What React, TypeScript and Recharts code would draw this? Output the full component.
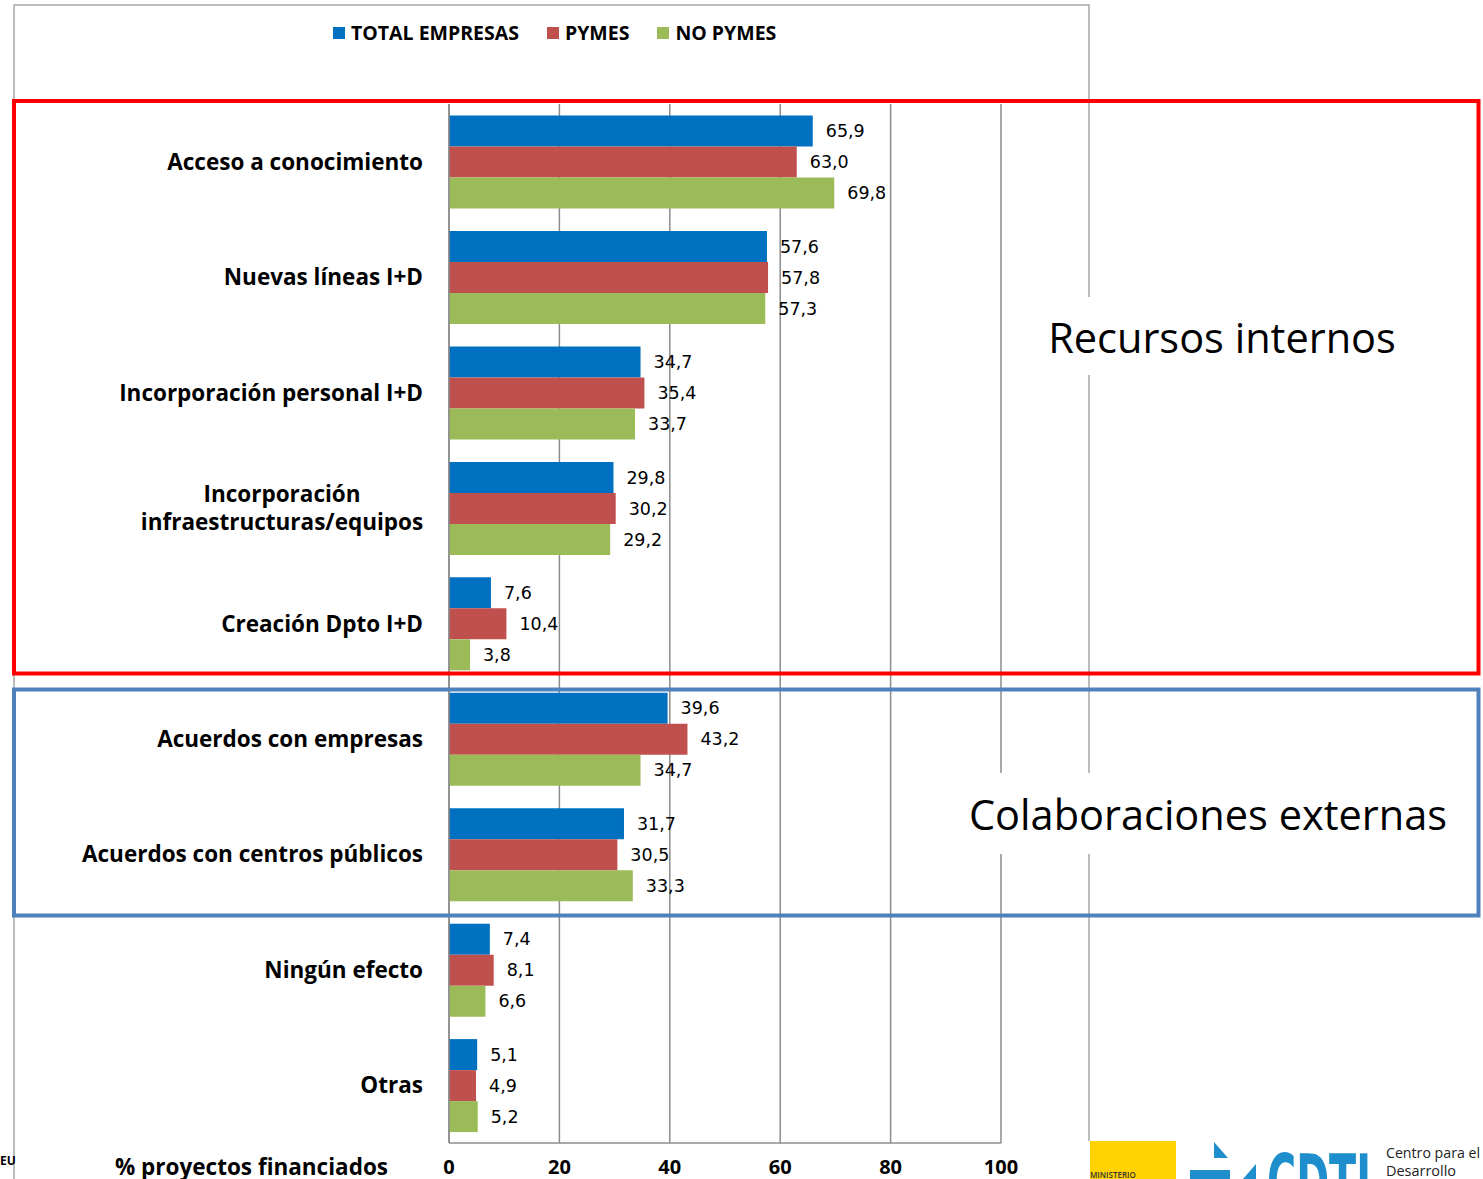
import React from "react";
import { BarChart, Bar, XAxis, YAxis, CartesianGrid, Legend, LabelList } from "recharts";

// categorías (de arriba a abajo)
const categories = [
  "Acceso a conocimiento",
  "Nuevas líneas I+D",
  "Incorporación personal I+D",
  "Incorporación\ninfraestructuras/equipos",
  "Creación Dpto I+D",
  "Acuerdos con empresas",
  "Acuerdos con centros públicos",
  "Ningún efecto",
  "Otras",
];

const totalEmpresas = [65.9, 57.6, 34.7, 29.8, 7.6, 39.6, 31.7, 7.4, 5.1];
const pymes = [63.0, 57.8, 35.4, 30.2, 10.4, 43.2, 30.5, 8.1, 4.9];
const noPymes = [69.8, 57.3, 33.7, 29.2, 3.8, 34.7, 33.3, 6.6, 5.2];

const xTicks = [0, 20, 40, 60, 80, 100];

const seriesInfo = [
  { key: "total", name: "TOTAL EMPRESAS", color: "#0070C0" },
  { key: "pymes", name: "PYMES", color: "#C0504D" },
  { key: "noPymes", name: "NO PYMES", color: "#9BBB59" },
];

const data = categories.map((name, i) => ({
  name,
  total: totalEmpresas[i],
  pymes: pymes[i],
  noPymes: noPymes[i],
}));

const fmt = (v: any) => Number(v).toFixed(1).replace(".", ",");

const GRID = "#8C8C8C";
const BOLD = "'Open Sans', 'Noto Sans', sans-serif";

const CategoryTick = (props: any) => {
  const { y, payload } = props;
  const lines = String(payload.value).split("\n");
  if (lines.length > 1) {
    return (
      <text x={282} y={y} textAnchor="middle" fontFamily={BOLD} fontWeight={700} fontSize={22.5} fill="#000">
        {lines.map((l, i) => (
          <tspan key={i} x={282} dy={i === 0 ? -(lines.length - 1) * 14 + 8 : 28}>
            {l}
          </tspan>
        ))}
      </text>
    );
  }
  return (
    <text x={423} y={y + 8} textAnchor="end" fontFamily={BOLD} fontWeight={700} fontSize={22.5} fill="#000">
      {lines[0]}
    </text>
  );
};

const NumTick = (props: any) => {
  const { x, payload } = props;
  return (
    <text x={x} y={1174} textAnchor="middle" fontFamily={BOLD} fontWeight={700} fontSize={20} fill="#000">
      {payload.value}
    </text>
  );
};

const LegendContent = () => (
  <div style={{ display: "flex", alignItems: "center", fontFamily: BOLD, fontWeight: 700, fontSize: 19.5, color: "#000" }}>
    {seriesInfo.map((s) => (
      <div key={s.key} style={{ display: "flex", alignItems: "center", marginRight: 28 }}>
        <span style={{ display: "inline-block", width: 12, height: 12, background: s.color, marginRight: 6 }} />
        <span>{s.name}</span>
      </div>
    ))}
  </div>
);

export default function App() {
  return (
    <div style={{ position: "absolute", left: 0, top: 0, width: 1483, height: 1179, background: "#fff", overflow: "hidden" }}>
      <BarChart
        width={1483}
        height={1179}
        data={data}
        layout="vertical"
        margin={{ top: 104, right: 482, bottom: 0, left: 0 }}
        barCategoryGap="10%"
        barGap={0}
      >
        <CartesianGrid horizontal={false} stroke={GRID} strokeWidth={1.5} />
        <XAxis
          type="number"
          domain={[0, 100]}
          ticks={xTicks}
          height={36}
          axisLine={{ stroke: GRID, strokeWidth: 1.5 }}
          tickLine={false}
          tick={<NumTick />}
          interval={0}
        />
        <YAxis
          type="category"
          dataKey="name"
          width={449}
          axisLine={{ stroke: GRID, strokeWidth: 1.5 }}
          tickLine={false}
          tick={<CategoryTick />}
          interval={0}
        />
        <Legend
          layout="horizontal"
          verticalAlign="middle"
          align="center"
          content={<LegendContent />}
          wrapperStyle={{ position: "absolute", top: 19, left: 333, width: 600, height: 26 }}
        />
        {seriesInfo.map((s) => (
          <Bar key={s.key} dataKey={s.key} name={s.name} fill={s.color} isAnimationActive={false}>
            <LabelList
              dataKey={s.key}
              position="right"
              offset={13}
              formatter={fmt}
              style={{ fontFamily: "'DejaVu Sans', sans-serif", fontSize: 17.5, fill: "#000" }}
            />
          </Bar>
        ))}
      </BarChart>

      <svg width={1483} height={1179} style={{ position: "absolute", left: 0, top: 0, pointerEvents: "none" }}>
        {/* marco del gráfico */}
        <polyline points="14,1179 14,5 1089,5 1089,1141" fill="none" stroke="#A6A6A6" strokeWidth={1.5} />

        {/* título eje */}
        <text x={115} y={1175} fontFamily={BOLD} fontWeight={700} fontSize={22.5} fill="#000">
          % proyectos financiados
        </text>
        <text x={0} y={1165} fontFamily={BOLD} fontWeight={700} fontSize={12} fill="#000">
          EU
        </text>

        {/* bloques */}
        <rect x={14} y={101} width={1464.5} height={572.5} fill="none" stroke="#FF0000" strokeWidth={4} />
        <rect x={14} y={689.5} width={1464.5} height={226} fill="none" stroke="#4F81BD" strokeWidth={4} />

        <rect x={1040} y={297} width={366} height={78} fill="#fff" />
        <text x={1222} y={353} textAnchor="middle" fontFamily="'Open Sans', sans-serif" fontSize={41.5} fill="#000">
          Recursos internos
        </text>
        <rect x={962} y={773} width={494} height={81} fill="#fff" />
        <text x={1208} y={830} textAnchor="middle" fontFamily="'Open Sans', sans-serif" fontSize={41.5} fill="#000">
          Colaboraciones externas
        </text>

        {/* logos */}
        <rect x={1090} y={1141} width={86} height={40} fill="#FFD200" />
        <text x={1090} y={1178} fontFamily={BOLD} fontWeight={600} fontSize={8} fill="#333">
          MINISTERIO
        </text>
        <polygon points="1214,1142 1228,1158 1214,1158" fill="#1E8FCC" />
        <polygon points="1190,1170 1230,1170 1230,1179 1190,1179" fill="#1E8FCC" />
        <polygon points="1243,1179 1256,1164 1256,1179" fill="#1E8FCC" />
        <text x={1267} y={1208} fontFamily="'DejaVu Sans', sans-serif" fontWeight={700} fontSize={74} fill="#1E8FCC" textLength={104} lengthAdjust="spacingAndGlyphs">
          CDTI
        </text>
        <text x={1386} y={1158} fontFamily="'Open Sans', sans-serif" fontSize={14} fill="#222" textLength={94} lengthAdjust="spacingAndGlyphs">
          Centro para el
        </text>
        <text x={1386} y={1176} fontFamily="'Open Sans', sans-serif" fontSize={14} fill="#222" textLength={70} lengthAdjust="spacingAndGlyphs">
          Desarrollo
        </text>
      </svg>
    </div>
  );
}
